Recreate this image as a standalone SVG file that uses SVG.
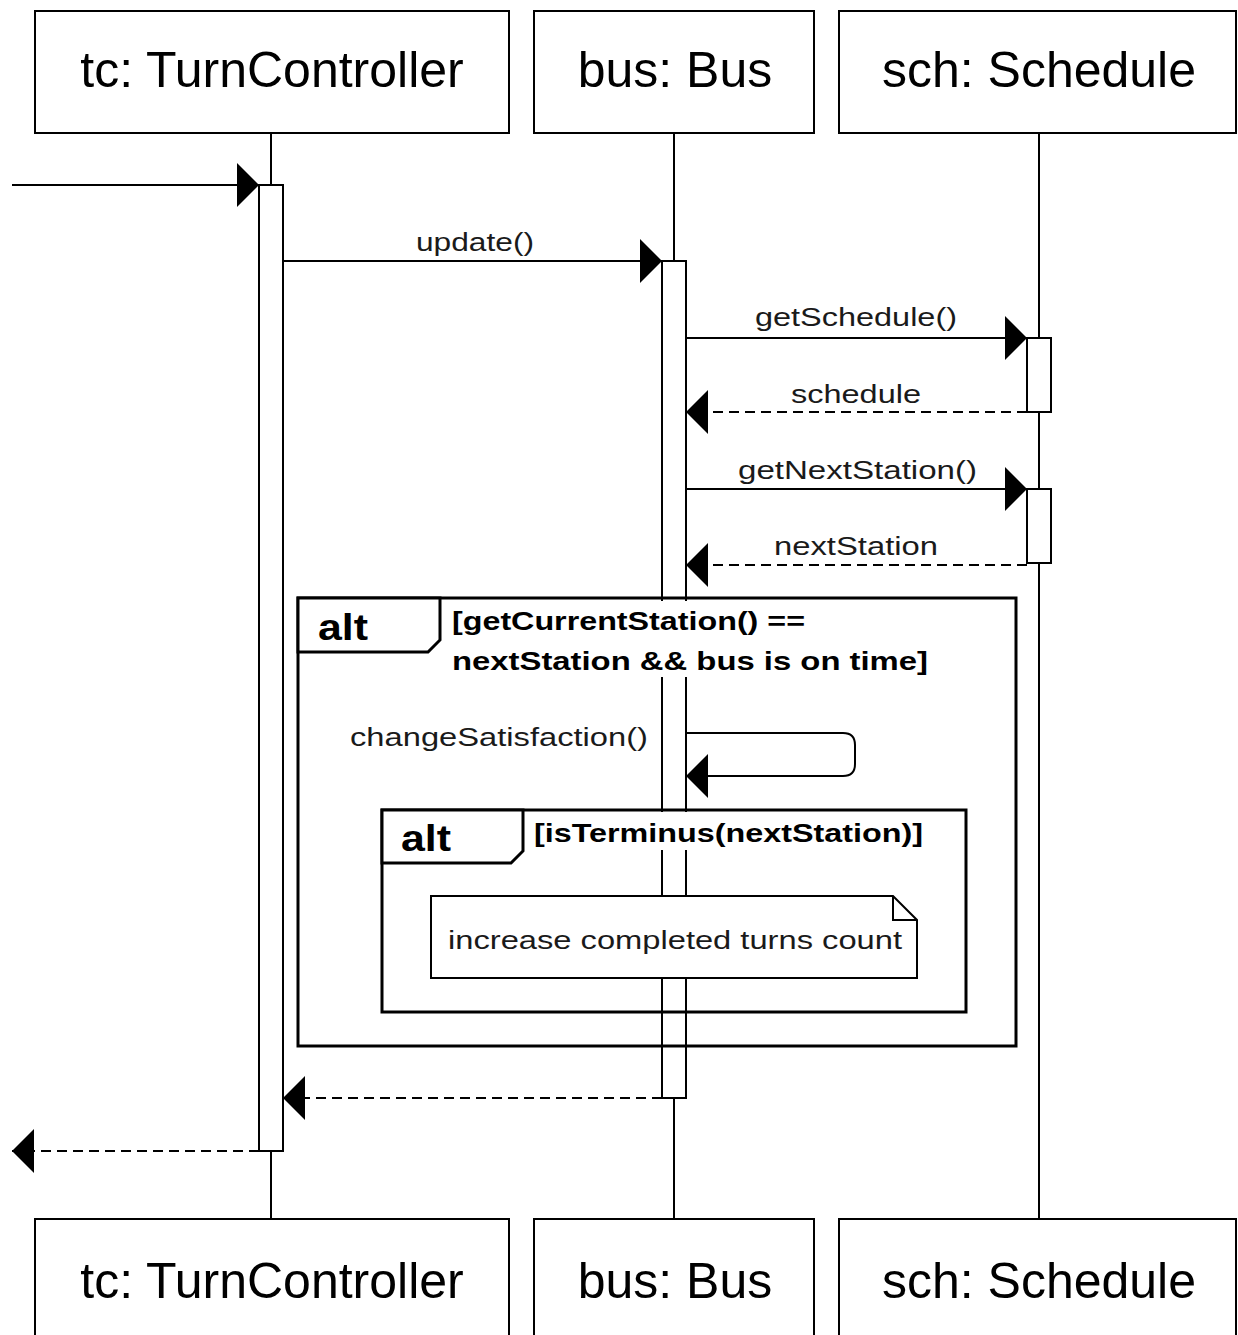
<svg xmlns="http://www.w3.org/2000/svg" width="1238" height="1335" viewBox="0 0 1238 1335">
<style>
.box{fill:#fff;stroke:#000;stroke-width:2}
.hdr{font-family:"Liberation Sans",Arial,sans-serif;font-size:50px;fill:#000;text-anchor:middle}
.life{stroke:#000;stroke-width:2;fill:none}
.act{fill:#fff;stroke:#000;stroke-width:2}
.msg{stroke:#000;stroke-width:2;fill:none}
.ret{stroke:#000;stroke-width:2;fill:none;stroke-dasharray:10 6}
.lbl{font-family:"Liberation Sans",Arial,sans-serif;font-size:26px;fill:#1a1a1a}
.cond{font-family:"Liberation Sans",Arial,sans-serif;font-size:25px;font-weight:bold;fill:#000}
.op{font-family:"Liberation Sans",Arial,sans-serif;font-size:37px;font-weight:bold;fill:#000}
.frame{fill:none;stroke:#000;stroke-width:3}
.tab{fill:#fff;stroke:#000;stroke-width:3}
</style>
<defs>
<marker id="ah" viewBox="0 0 22 44" refX="22" refY="22" markerWidth="22" markerHeight="44" markerUnits="userSpaceOnUse" orient="auto">
<path d="M0,0 L22,22 L0,44 Z" fill="#000"/>
</marker>
</defs>

<g id="lifelines">
<line class="life" x1="271" y1="133" x2="271" y2="1219"/>
<line class="life" x1="674" y1="133" x2="674" y2="1219"/>
<line class="life" x1="1039" y1="133" x2="1039" y2="1219"/>
</g>

<g id="tc-top"><rect class="box" x="35" y="11" width="474" height="122"/><text class="hdr" x="272" y="87">tc: TurnController</text></g>
<g id="bus-top"><rect class="box" x="534" y="11" width="280" height="122"/><text class="hdr" x="675" y="87">bus: Bus</text></g>
<g id="sch-top"><rect class="box" x="839" y="11" width="397" height="122"/><text class="hdr" x="1039" y="87">sch: Schedule</text></g>

<g id="tc-bottom"><rect class="box" x="35" y="1219" width="474" height="130"/><text class="hdr" x="272" y="1298">tc: TurnController</text></g>
<g id="bus-bottom"><rect class="box" x="534" y="1219" width="280" height="130"/><text class="hdr" x="675" y="1298">bus: Bus</text></g>
<g id="sch-bottom"><rect class="box" x="839" y="1219" width="397" height="130"/><text class="hdr" x="1039" y="1298">sch: Schedule</text></g>

<g id="activations">
<rect class="act" x="259" y="185" width="24" height="966"/>
<rect class="act" x="662" y="261" width="24" height="837"/>
<rect class="act" x="1027" y="338" width="24" height="74"/>
<rect class="act" x="1027" y="489" width="24" height="74"/>
</g>

<g id="alt-outer">
<rect class="frame" x="298" y="598" width="718" height="448"/>
<path class="tab" d="M298,598 H440 V640 L428,652 H298 Z"/>
<text class="op" x="318" y="640" textLength="50" lengthAdjust="spacingAndGlyphs">alt</text>
<rect x="446" y="601" width="490" height="76" fill="#fff"/>
<text class="cond" x="452" y="630" textLength="353" lengthAdjust="spacingAndGlyphs">[getCurrentStation() ==</text>
<text class="cond" x="452" y="670" textLength="476" lengthAdjust="spacingAndGlyphs">nextStation &amp;&amp; bus is on time]</text>
</g>

<g id="alt-inner">
<rect class="frame" x="382" y="810" width="584" height="202"/>
<path class="tab" d="M382,810 H523 V851 L511,863 H382 Z"/>
<text class="op" x="401" y="851" textLength="50" lengthAdjust="spacingAndGlyphs">alt</text>
<rect x="528" y="812" width="400" height="38" fill="#fff"/>
<text class="cond" x="534" y="842" textLength="389" lengthAdjust="spacingAndGlyphs">[isTerminus(nextStation)]</text>
</g>

<g id="note">
<path d="M431,896 H893 L917,920 V978 H431 Z" fill="#fff" stroke="#000" stroke-width="2"/>
<path d="M893,896 V920 H917" fill="none" stroke="#000" stroke-width="2"/>
<text class="lbl" x="448" y="949" textLength="454" lengthAdjust="spacingAndGlyphs">increase completed turns count</text>
</g>

<g id="connectors">
<line class="msg" x1="12" y1="185" x2="259" y2="185" marker-end="url(#ah)"/>
<line class="msg" x1="283" y1="261" x2="662" y2="261" marker-end="url(#ah)"/>
<text class="lbl" x="416" y="251" textLength="118" lengthAdjust="spacingAndGlyphs">update()</text>
<line class="msg" x1="686" y1="338" x2="1027" y2="338" marker-end="url(#ah)"/>
<text class="lbl" x="755" y="326" textLength="202" lengthAdjust="spacingAndGlyphs">getSchedule()</text>
<line class="ret" x1="1027" y1="412" x2="686" y2="412" marker-end="url(#ah)"/>
<text class="lbl" x="791" y="403" textLength="130" lengthAdjust="spacingAndGlyphs">schedule</text>
<line class="msg" x1="686" y1="489" x2="1027" y2="489" marker-end="url(#ah)"/>
<text class="lbl" x="738" y="479" textLength="239" lengthAdjust="spacingAndGlyphs">getNextStation()</text>
<line class="ret" x1="1027" y1="565" x2="686" y2="565" marker-end="url(#ah)"/>
<text class="lbl" x="774" y="555" textLength="164" lengthAdjust="spacingAndGlyphs">nextStation</text>
<path class="msg" d="M686,733 H843 Q855,733 855,745 V764 Q855,776 843,776 H686" marker-end="url(#ah)"/>
<text class="lbl" x="350" y="746" textLength="298" lengthAdjust="spacingAndGlyphs">changeSatisfaction()</text>
<line class="ret" x1="662" y1="1098" x2="283" y2="1098" marker-end="url(#ah)"/>
<line class="ret" x1="259" y1="1151" x2="12" y2="1151" marker-end="url(#ah)"/>
</g>
</svg>
